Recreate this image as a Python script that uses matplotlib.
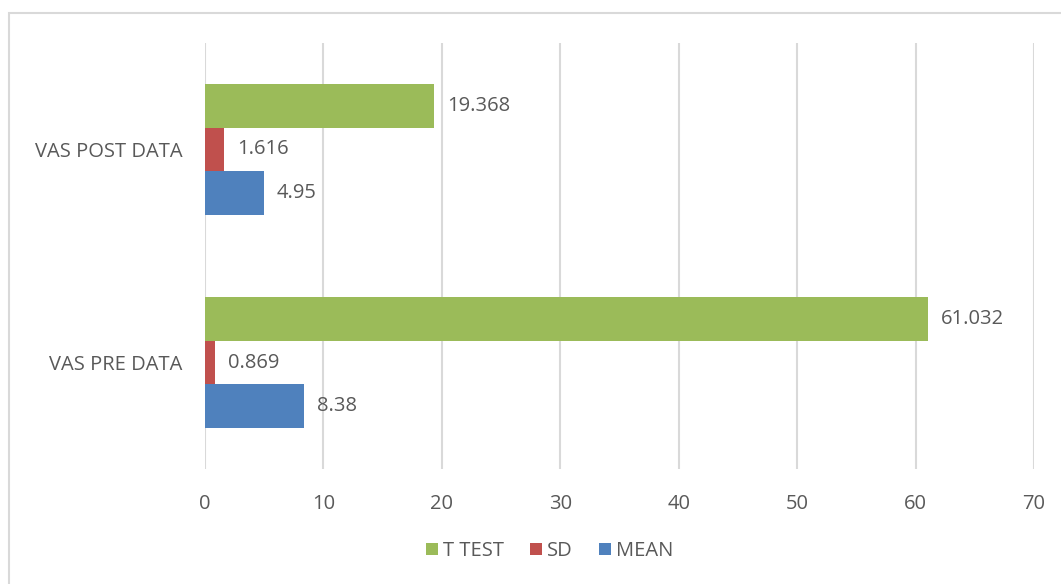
import matplotlib
matplotlib.use("Agg")
import matplotlib.pyplot as plt
from matplotlib.patches import Rectangle

categories = ["VAS PRE DATA", "VAS POST DATA"]
series_names = ["MEAN", "SD", "T TEST"]
mean_vals = [8.38, 4.95]
sd_vals = [0.869, 1.616]
ttest_vals = [61.032, 19.368]
mean_labels = ["8.38", "4.95"]
sd_labels = ["0.869", "1.616"]
ttest_labels = ["61.032", "19.368"]
xticks = [0, 10, 20, 30, 40, 50, 60, 70]

colors = {"MEAN": "#4F81BD", "SD": "#C0504D", "T TEST": "#9BBB59"}
text_color = "#595959"
plt.rcParams['font.family'] = ['Open Sans', 'DejaVu Sans']
fs = 14.5

fig = plt.figure(figsize=(10.61, 5.84), dpi=100)
fig.patches.append(Rectangle((9/1061, -0.01), 1.0, 1 - 13/584 + 0.01,
                             transform=fig.transFigure, fill=False,
                             edgecolor="#D9D9D9", linewidth=1.5))
ax = fig.add_axes([205/1061, 1 - 469/584, (1034 - 205)/1061, (469 - 43)/584])

h = 0.2056
ypos = [0, 1]
data = [(mean_vals, mean_labels, "MEAN", -h), (sd_vals, sd_labels, "SD", 0.0),
        (ttest_vals, ttest_labels, "T TEST", h)]
handles = {}
for vals, labs, name, off in data:
    bars = ax.barh([y + off for y in ypos], vals, height=h, color=colors[name], label=name, zorder=3)
    handles[name] = bars
    for b, lab in zip(bars, labs):
        ax.text(b.get_width() + 1.1, b.get_y() + h / 2, lab, va="center", ha="left",
                fontsize=fs, color=text_color)

ax.set_xlim(0, 70)
ax.set_ylim(-0.5, 1.5)
ax.set_xticks(xticks)
ax.set_xticklabels([str(t) for t in xticks])
ax.set_yticks(ypos)
ax.set_yticklabels(categories)
ax.tick_params(axis="both", length=0, labelsize=fs, colors=text_color)
ax.tick_params(axis="x", pad=18)
ax.tick_params(axis="y", pad=16)
ax.grid(axis="x", color="#D9D9D9", linewidth=1.5, zorder=0)
for s in ax.spines.values():
    s.set_visible(False)

leg = fig.legend([handles["T TEST"], handles["SD"], handles["MEAN"]], ["T TEST", "SD", "MEAN"],
                 loc="center", bbox_to_anchor=(0.518, 1 - 551/584), ncol=3, frameon=False,
                 fontsize=fs, handlelength=0.6, handleheight=0.6, handletextpad=0.25, columnspacing=1.3)
for t in leg.get_texts():
    t.set_color(text_color)

fig.savefig("out.png", dpi=100)
